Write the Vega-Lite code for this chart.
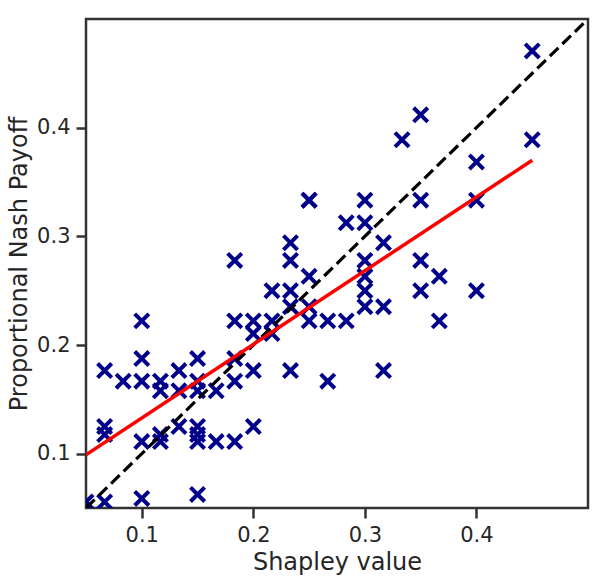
{
  "$schema": "https://vega.github.io/schema/vega-lite/v6.json",
  "width": 502,
  "height": 489,
  "autosize": {"type": "none"},
  "padding": {"left": 86, "top": 19, "right": 19, "bottom": 71},
  "datasets": {
    "points": [
      {"shapley": 0.05, "nash": 0.0556},
      {"shapley": 0.0667, "nash": 0.0556},
      {"shapley": 0.0667, "nash": 0.1176},
      {"shapley": 0.0667, "nash": 0.125},
      {"shapley": 0.0667, "nash": 0.1765},
      {"shapley": 0.0833, "nash": 0.1667},
      {"shapley": 0.1, "nash": 0.0588},
      {"shapley": 0.1, "nash": 0.1111},
      {"shapley": 0.1, "nash": 0.1667},
      {"shapley": 0.1, "nash": 0.1875},
      {"shapley": 0.1, "nash": 0.2222},
      {"shapley": 0.1167, "nash": 0.1111},
      {"shapley": 0.1167, "nash": 0.1176},
      {"shapley": 0.1167, "nash": 0.1579},
      {"shapley": 0.1167, "nash": 0.1667},
      {"shapley": 0.1333, "nash": 0.125},
      {"shapley": 0.1333, "nash": 0.1579},
      {"shapley": 0.1333, "nash": 0.1765},
      {"shapley": 0.15, "nash": 0.0625},
      {"shapley": 0.15, "nash": 0.1111},
      {"shapley": 0.15, "nash": 0.1176},
      {"shapley": 0.15, "nash": 0.125},
      {"shapley": 0.15, "nash": 0.1579},
      {"shapley": 0.15, "nash": 0.1667},
      {"shapley": 0.15, "nash": 0.1875},
      {"shapley": 0.1667, "nash": 0.1111},
      {"shapley": 0.1667, "nash": 0.1579},
      {"shapley": 0.1833, "nash": 0.1111},
      {"shapley": 0.1833, "nash": 0.1667},
      {"shapley": 0.1833, "nash": 0.1875},
      {"shapley": 0.1833, "nash": 0.2222},
      {"shapley": 0.1833, "nash": 0.2778},
      {"shapley": 0.2, "nash": 0.125},
      {"shapley": 0.2, "nash": 0.1765},
      {"shapley": 0.2, "nash": 0.2105},
      {"shapley": 0.2, "nash": 0.2222},
      {"shapley": 0.2167, "nash": 0.2105},
      {"shapley": 0.2167, "nash": 0.2222},
      {"shapley": 0.2167, "nash": 0.25},
      {"shapley": 0.2333, "nash": 0.1765},
      {"shapley": 0.2333, "nash": 0.2353},
      {"shapley": 0.2333, "nash": 0.25},
      {"shapley": 0.2333, "nash": 0.2778},
      {"shapley": 0.2333, "nash": 0.2941},
      {"shapley": 0.25, "nash": 0.2222},
      {"shapley": 0.25, "nash": 0.2353},
      {"shapley": 0.25, "nash": 0.2632},
      {"shapley": 0.25, "nash": 0.3333},
      {"shapley": 0.25, "nash": 0.3333},
      {"shapley": 0.2667, "nash": 0.1667},
      {"shapley": 0.2667, "nash": 0.2222},
      {"shapley": 0.2833, "nash": 0.2222},
      {"shapley": 0.2833, "nash": 0.3125},
      {"shapley": 0.3, "nash": 0.2353},
      {"shapley": 0.3, "nash": 0.25},
      {"shapley": 0.3, "nash": 0.2632},
      {"shapley": 0.3, "nash": 0.2778},
      {"shapley": 0.3, "nash": 0.3125},
      {"shapley": 0.3, "nash": 0.3333},
      {"shapley": 0.3167, "nash": 0.1765},
      {"shapley": 0.3167, "nash": 0.2353},
      {"shapley": 0.3167, "nash": 0.2941},
      {"shapley": 0.3333, "nash": 0.3889},
      {"shapley": 0.35, "nash": 0.25},
      {"shapley": 0.35, "nash": 0.2778},
      {"shapley": 0.35, "nash": 0.3333},
      {"shapley": 0.35, "nash": 0.4118},
      {"shapley": 0.3667, "nash": 0.2222},
      {"shapley": 0.3667, "nash": 0.2632},
      {"shapley": 0.4, "nash": 0.25},
      {"shapley": 0.4, "nash": 0.3333},
      {"shapley": 0.4, "nash": 0.3684},
      {"shapley": 0.45, "nash": 0.3889},
      {"shapley": 0.45, "nash": 0.4706}
    ],
    "diagonal": [
      {"shapley": 0.05, "nash": 0.05},
      {"shapley": 0.5, "nash": 0.5}
    ],
    "fit": [
      {"shapley": 0.05, "nash": 0.099},
      {"shapley": 0.45, "nash": 0.37}
    ]
  },
  "encoding": {
    "x": {
      "field": "shapley",
      "type": "quantitative",
      "title": "Shapley value",
      "scale": {"domain": [0.05, 0.5], "nice": false, "zero": false},
      "axis": {"values": [0.1, 0.2, 0.3, 0.4], "format": ".1f"}
    },
    "y": {
      "field": "nash",
      "type": "quantitative",
      "title": "Proportional Nash Payoff",
      "scale": {"domain": [0.05, 0.5], "nice": false, "zero": false},
      "axis": {"values": [0.1, 0.2, 0.3, 0.4], "format": ".1f"}
    }
  },
  "layer": [
    {
      "data": {"name": "points"},
      "mark": {
        "type": "point",
        "shape": "M-1,-1L1,1M-1,1L1,-1",
        "size": 200,
        "filled": false,
        "stroke": "#00008b",
        "strokeWidth": 4,
        "opacity": 1,
        "clip": true
      }
    },
    {
      "data": {"name": "diagonal"},
      "mark": {"type": "line", "color": "black", "strokeWidth": 3.2, "strokeDash": [12, 5.5], "clip": true}
    },
    {
      "data": {"name": "fit"},
      "mark": {"type": "line", "color": "#ff0000", "strokeWidth": 3.5, "clip": true}
    }
  ],
  "config": {
    "font": "DejaVu Sans",
    "view": {"stroke": "#333333", "strokeWidth": 2.5},
    "axis": {
      "domain": false,
      "grid": false,
      "tickColor": "#333333",
      "tickWidth": 2.5,
      "tickSize": 10,
      "labelFont": "DejaVu Sans",
      "labelFontSize": 21,
      "labelColor": "#262626",
      "labelPadding": 6,
      "titleFont": "DejaVu Sans",
      "titleFontSize": 24,
      "titleFontWeight": "normal",
      "titleColor": "#262626",
      "titlePadding": 5
    }
  }
}
